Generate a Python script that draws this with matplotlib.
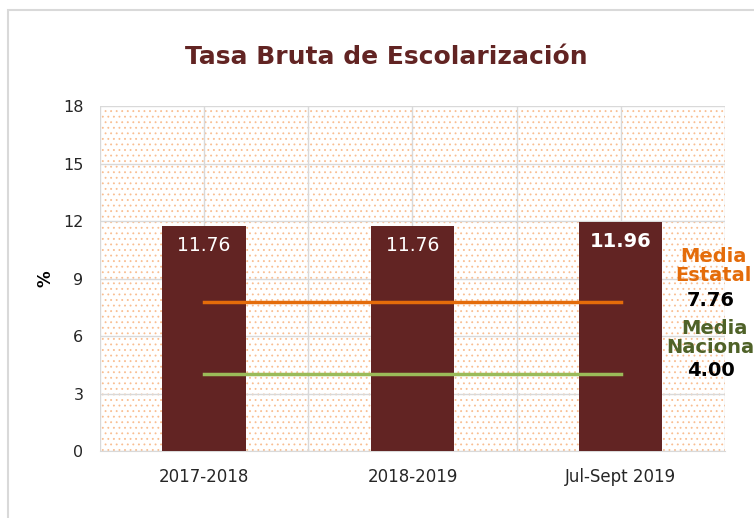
import matplotlib.pyplot as plt
import matplotlib.patches as mpatches
import numpy as np

periodos = ['2017-2018', '2018-2019', 'Jul-Sept 2019']
tasa = [11.76, 11.76, 11.96]
media_estatal = 7.76
media_nacional = 4.00
yticks = [0, 3, 6, 9, 12, 15, 18]

color_barra = '#622423'
color_estatal = '#E46C0A'
color_nacional = '#9BBB59'
color_nac_txt = '#4F6228'

plt.rcParams['font.family'] = ['DejaVu Sans']
plt.rcParams['hatch.linewidth'] = 0.6

fig = plt.figure(figsize=(7.54, 5.18), dpi=100)
# marco gris del grafico
fig.add_artist(mpatches.Rectangle((8 / 754, -0.1), 1.2, 1 - 10 / 518 + 0.1,
                                  transform=fig.transFigure, fill=False,
                                  edgecolor='#D9D9D9', linewidth=1.5))

ax = fig.add_axes([0.1326, 0.1293, 0.8289, 0.666])
x = np.arange(len(periodos))

# fondo punteado
fondo = mpatches.Rectangle((0, 0), 1, 1, transform=ax.transAxes,
                           facecolor='white', edgecolor='#F9BE91',
                           hatch='...', linewidth=0, zorder=0)
ax.add_patch(fondo)

ax.set_xlim(-0.5, 2.5)
ax.set_ylim(0, 18)
ax.set_yticks(yticks)
ax.set_xticks(np.arange(-0.5, 2.6, 0.5))
ax.set_xticklabels(['', periodos[0], '', periodos[1], '', periodos[2], ''])
ax.grid(True, color='#D9D9D9', linewidth=1, zorder=1)
ax.set_axisbelow(True)
ax.tick_params(length=0, labelsize=12, colors='#262626', pad=12)
ax.tick_params(axis='y', labelsize=11.5, pad=12)
for s in ['top', 'right', 'left']:
    ax.spines[s].set_visible(False)
ax.spines['bottom'].set_color('#D9D9D9')

ax.bar(x, tasa, width=0.4, color=color_barra, zorder=3)
for i, v in enumerate(tasa):
    peso = 'bold' if i == 2 else 'normal'
    tam = 14 if i == 2 else 13.5
    ax.text(x[i], v - 0.55, '%.2f' % v, ha='center', va='top', color='white',
            fontsize=tam, fontweight=peso, zorder=4)

ax.plot([x[0], x[-1]], [media_estatal] * 2, color=color_estatal, lw=2.5, zorder=5)
ax.plot([x[0], x[-1]], [media_nacional] * 2, color=color_nacional, lw=2.5, zorder=5)

ax.set_ylabel('%', fontsize=12, fontweight='bold', labelpad=6)

# etiquetas de las medias
fig.text(713 / 754, 1 - 266 / 518, 'Media\nEstatal', ha='center', va='center',
         color=color_estatal, fontsize=14, fontweight='bold', linespacing=1.05)
fig.text(711 / 754, 1 - 300 / 518, '%.2f' % media_estatal, ha='center', va='center',
         color='black', fontsize=14, fontweight='bold')
fig.text(714 / 754, 1 - 338 / 518, 'Media\nNacional', ha='center', va='center',
         color=color_nac_txt, fontsize=14, fontweight='bold', linespacing=1.05)
fig.text(711 / 754, 1 - 370 / 518, '%.2f' % media_nacional, ha='center', va='center',
         color='black', fontsize=14, fontweight='bold')

fig.text(386 / 754, 1 - 57 / 518, 'Tasa Bruta de Escolarización', ha='center',
         va='center', color=color_barra, fontsize=18, fontweight='bold')

fig.savefig('out.png', dpi=100)
